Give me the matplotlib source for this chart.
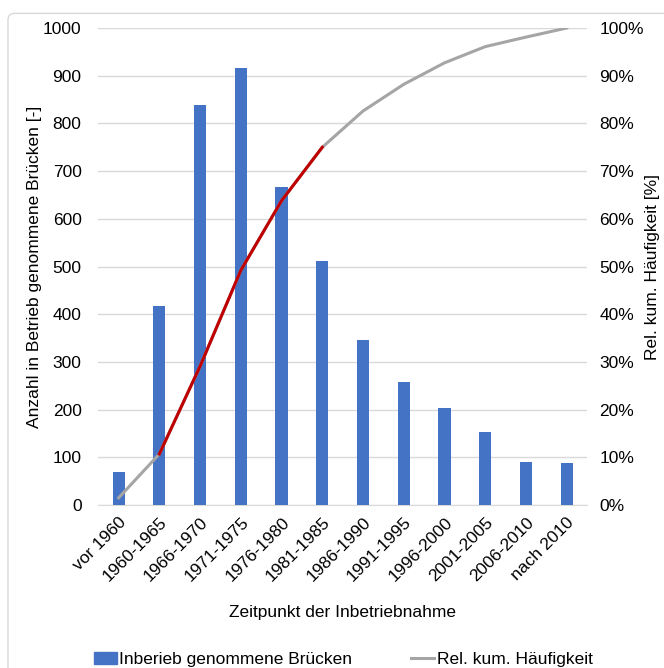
import numpy as np
import matplotlib
matplotlib.use("Agg")
import matplotlib.pyplot as plt
from matplotlib.patches import FancyBboxPatch
from matplotlib.ticker import FuncFormatter

plt.rcParams["font.family"] = ["Liberation Sans", "DejaVu Sans"]

categories = ["vor 1960", "1960-1965", "1966-1970", "1971-1975", "1976-1980", "1981-1985",
              "1986-1990", "1991-1995", "1996-2000", "2001-2005", "2006-2010", "nach 2010"]
bridges = [70, 417, 838, 917, 666, 512, 345, 257, 204, 154, 91, 88]
cum_share = [0.015, 0.107, 0.291, 0.492, 0.638, 0.750, 0.826, 0.882, 0.927, 0.961, 0.981, 1.0]
highlight = slice(1, 6)  # 1960-1965 .. 1981-1985 drawn in red

BLUE = "#4472C4"
GREY = "#A5A5A5"
RED = "#C00000"
FS = 12.5

fig = plt.figure(figsize=(6.64, 6.68), dpi=100)
frame = FancyBboxPatch((0.012, -0.02), 1.1, 1.0, boxstyle="round,pad=0,rounding_size=0.01",
                       transform=fig.transFigure, fc="white", ec="#D9D9D9", lw=1, zorder=-10)
fig.patches.append(frame)

ax = fig.add_axes([0.148, 0.244, 0.736, 0.714])
ax.patch.set_alpha(0)
x = np.arange(len(categories))
ax.bar(x, bridges, width=0.3, color=BLUE, zorder=3)
ax.set_xlim(-0.5, len(categories) - 0.5)
ax.set_ylim(0, 1000)
ax.set_yticks(range(0, 1001, 100))
ax.yaxis.grid(True, color="#D9D9D9", lw=1)
ax.set_axisbelow(True)
for s in ["top", "right", "left"]:
    ax.spines[s].set_visible(False)
ax.spines["bottom"].set_color("#D9D9D9")
ax.tick_params(axis="both", length=0, labelsize=FS)
ax.tick_params(axis="y", pad=12)
ax.set_xticks(x)
ax.set_xticklabels(categories, rotation=45, ha="right", rotation_mode="anchor")
ax.tick_params(axis="x", pad=7)
ax.set_xlabel("Zeitpunkt der Inbetriebnahme", fontsize=FS, labelpad=15)

ax2 = ax.twinx()
ax2.plot(x, cum_share, color=GREY, lw=2.2, zorder=4)
ax2.plot(x[highlight], cum_share[highlight], color=RED, lw=2.2, zorder=5)
ax2.set_ylim(0, 1)
ax2.set_yticks(np.arange(0, 1.01, 0.1))
ax2.yaxis.set_major_formatter(FuncFormatter(lambda v, p: f"{v*100:.0f}%"))
for s in ax2.spines.values():
    s.set_visible(False)
ax2.tick_params(axis="y", length=0, labelsize=FS, pad=9)

# axis titles placed directly in figure coordinates
fig.text(0.052, 0.601, "Anzahl in Betrieb genommene Brücken [-]", rotation=90,
         ha="center", va="center", fontsize=FS)
fig.text(0.983, 0.601, "Rel. kum. Häufigkeit [%]", rotation=90,
         ha="center", va="center", fontsize=FS)

bar_handle = plt.Rectangle((0, 0), 1, 1, color=BLUE)
line_handle = plt.Line2D([], [], color=GREY, lw=2.2)
fig.legend([bar_handle, line_handle], ["Inberieb genommene Brücken", "Rel. kum. Häufigkeit"],
           loc="center", bbox_to_anchor=(0.517, 0.013), ncol=2, frameon=False, fontsize=FS,
           handlelength=1.3, handletextpad=0.15, columnspacing=3.4)

plt.savefig("out.png", dpi=100)
